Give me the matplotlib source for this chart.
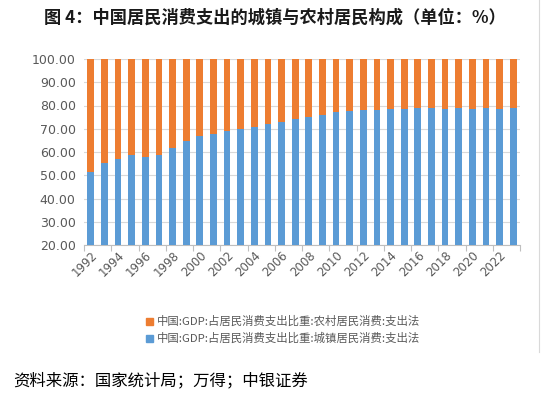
import matplotlib
matplotlib.use("Agg")
import matplotlib.pyplot as plt
from matplotlib.patches import Rectangle
from matplotlib.lines import Line2D
import numpy as np

plt.rcParams['font.family'] = ['Noto Sans CJK SC', 'DejaVu Sans']

years = list(range(1992, 2024))
urban = [51.5, 55.1, 57.0, 58.6, 57.7, 58.9, 61.6, 64.6, 66.9, 67.9,
         69.2, 69.7, 70.8, 72.2, 73.0, 74.2, 75.2, 75.9, 77.3, 77.6,
         77.9, 78.2, 78.5, 78.5, 78.9, 78.9, 78.5, 78.9, 78.5, 78.9,
         78.5, 78.9]
rural = [100 - u for u in urban]
yticks = [20, 30, 40, 50, 60, 70, 80, 90, 100]

title = "图 4：中国居民消费支出的城镇与农村居民构成（单位：%）"
legend_rural = "中国:GDP:占居民消费支出比重:农村居民消费:支出法"
legend_urban = "中国:GDP:占居民消费支出比重:城镇居民消费:支出法"
source = "资料来源：国家统计局；万得；中银证券"

blue = "#5B9BD5"
orange = "#ED7D31"
gray = "#595959"

fig = plt.figure(figsize=(5.5, 3.97), dpi=100)
ax = fig.add_axes([84/550, 1-245/397, 436/550, 186/397])

x = np.arange(len(years))
ax.bar(x, urban, width=0.5, color=blue, bottom=0, zorder=3)
ax.bar(x, rural, width=0.5, color=orange, bottom=urban, zorder=3)

ax.set_ylim(20, 100)
ax.set_xlim(-0.5, len(years) - 0.5)
ax.set_yticks(yticks)
ax.set_yticklabels([f"{v:.2f}" for v in yticks], fontsize=9, color=gray,
                   family=['DejaVu Sans'])
ax.tick_params(axis='y', length=0, pad=6)
ax.grid(axis='y', color='#D9D9D9', linewidth=0.8, zorder=0)

ax.set_xticks(np.arange(-0.5, len(years), 2))
ax.set_xticklabels([])
ax.set_xticks(x[::2], minor=True)
ax.set_xticklabels([str(y) for y in years[::2]], minor=True, rotation=45,
                   ha='right', va='top', rotation_mode='anchor', fontsize=8.5,
                   color=gray, family=['DejaVu Sans'])
ax.tick_params(axis='x', which='major', length=4, color='#BFBFBF')
ax.tick_params(axis='x', which='minor', length=0, pad=3)

for s in ['top', 'right', 'left']:
    ax.spines[s].set_visible(False)
ax.spines['bottom'].set_color('#BFBFBF')

# title
fig.text(0.5, 1-18/397, title, ha='center', va='center', fontsize=12.4,
         fontweight='bold', color='#1a1a1a')

# legend
for yy, col, lab in [(321, orange, legend_rural), (338, blue, legend_urban)]:
    fig.patches.append(Rectangle((146/550, 1-(yy+3.5)/397), 7/550, 7/397,
                                 transform=fig.transFigure, color=col))
    fig.text(157/550, 1-yy/397, lab, ha='left', va='center', fontsize=8.2,
             color=gray)

# right border of chart box
fig.lines.append(Line2D([539/550, 539/550], [1-0/397, 1-352/397],
                        transform=fig.transFigure, color='#D9D9D9', linewidth=0.8))

fig.text(13/550, 1-381/397, source, ha='left', va='center', fontsize=11.8,
         color='black')

fig.savefig("out.png", dpi=100)
